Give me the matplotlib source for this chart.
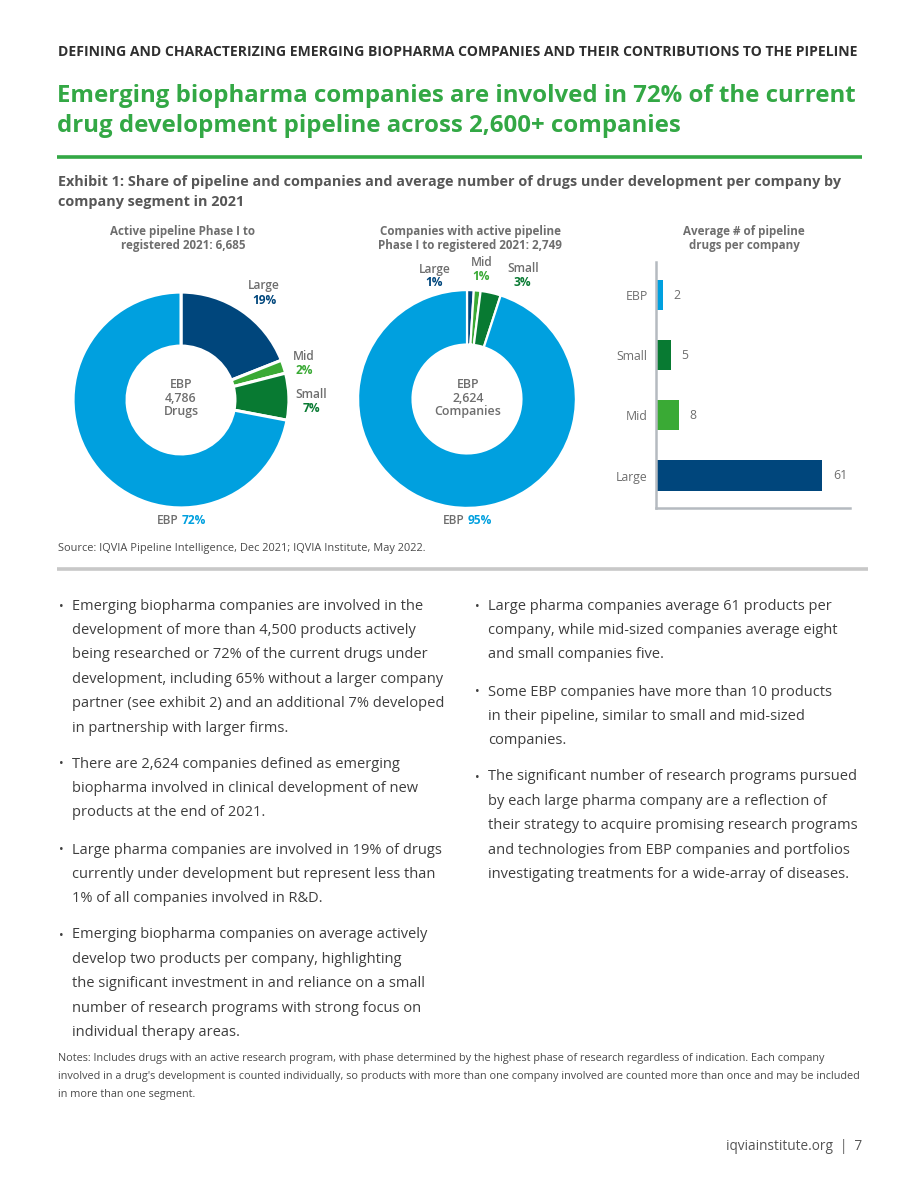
import matplotlib
matplotlib.use("Agg")
import matplotlib.pyplot as plt
from matplotlib.lines import Line2D

# ---------------- data ----------------
segments = ["Large", "Mid", "Small", "EBP"]
pipeline_share = [19, 2, 7, 72]          # % of active pipeline (drugs)
company_share = [1, 1, 3, 95]            # % of companies
bar_cats = ["EBP", "Small", "Mid", "Large"]
avg_drugs = [2, 5, 8, 61]                # average # of pipeline drugs per company
pipeline_total = "6,685"
companies_total = "2,749"
ebp_drugs = "4,786"
ebp_companies = "2,624"

# ---------------- style ----------------
NAVY = "#00467C"
LGREEN = "#3AAA35"
DGREEN = "#087A32"
BLUE = "#00A0DF"
TITLE_G = "#33A845"
GRAY = "#6E6E6E"
BODY = "#3E3E3E"
seg_colors = {"Large": NAVY, "Mid": LGREEN, "Small": DGREEN, "EBP": BLUE}

W, H = 920, 1191
fig = plt.figure(figsize=(W / 100, H / 100), dpi=100)
fig.patch.set_facecolor("white")
renderer = fig.canvas.get_renderer()

BODYF = ["Open Sans", "DejaVu Sans"]
COND = ["Open Sans", "DejaVu Sans"]


def T(x, y, s, **kw):
    kw.setdefault("va", "center")
    kw.setdefault("family", BODYF)
    return fig.text(x / W, 1 - y / H, s, **kw)


def fitT(x, y, s, width, size0, **kw):
    t = T(x, y, s, fontsize=size0, **kw)
    bb = t.get_window_extent(renderer)
    t.set_fontsize(size0 * width / bb.width)
    return t


def hline(x0, x1, y, color, lw):
    fig.add_artist(Line2D([x0 / W, x1 / W], [1 - y / H, 1 - y / H],
                          color=color, lw=lw, transform=fig.transFigure,
                          solid_capstyle="butt"))


# ---------------- header ----------------
fitT(58, 52, "DEFINING AND CHARACTERIZING EMERGING BIOPHARMA COMPANIES AND THEIR CONTRIBUTIONS TO THE PIPELINE",
     800, 10, family=COND, weight="bold", color="#2F2F2F")
t1 = fitT(57, 96, "Emerging biopharma companies are involved in 72% of the current",
          799, 20, family=COND, weight="bold", color=TITLE_G)
T(57, 126, "drug development pipeline across 2,600+ companies",
  family=COND, weight="bold", color=TITLE_G, fontsize=t1.get_fontsize())
hline(57, 862, 157, TITLE_G, 2.6)

e1 = fitT(58, 182, "Exhibit 1: Share of pipeline and companies and average number of drugs under development per company by",
          785, 10, family=COND, weight="bold", color="#575757")
T(58, 202, "company segment in 2021", family=COND, weight="bold", color="#575757",
  fontsize=e1.get_fontsize())

# chart subtitles
for cx, l1, l2 in [(183, "Active pipeline Phase I to", f"registered 2021: {pipeline_total}"),
                   (470, "Companies with active pipeline", f"Phase I to registered 2021: {companies_total}"),
                   (744, "Average # of pipeline", "drugs per company")]:
    T(cx, 231, l1, ha="center", fontsize=8.4, weight="bold", color=GRAY)
    T(cx, 246, l2, ha="center", fontsize=8.4, weight="bold", color=GRAY)


# ---------------- donuts ----------------
def donut(cx, cy, r, shares, lw):
    ax = fig.add_axes([(cx - r) / W, 1 - (cy + r) / H, 2 * r / W, 2 * r / H])
    ax.pie(shares, colors=[seg_colors[s] for s in segments], startangle=90,
           counterclock=False, radius=1.0,
           wedgeprops=dict(width=0.5, edgecolor="white", linewidth=lw))
    ax.set_xlim(-1.01, 1.01)
    ax.set_ylim(-1.01, 1.01)
    ax.set_aspect("equal")
    ax.axis("off")
    return ax


donut(181, 400, 109, pipeline_share, 2.2)
donut(467, 399, 110, company_share, 1.6)

LBL = 8.6
# donut 1 labels
for x, y, name, val, col in [(264, 286, "Large", pipeline_share[0], NAVY),
                             (304, 356, "Mid", pipeline_share[1], LGREEN),
                             (311, 395, "Small", pipeline_share[2], DGREEN)]:
    T(x, y, name, ha="center", fontsize=LBL, weight="semibold", color=GRAY)
    T(x, y + 14, f"{val}%", ha="center", fontsize=LBL, weight="bold", color=col)
for i, s in enumerate(["EBP", ebp_drugs, "Drugs"]):
    T(181, 384 + 14 * i, s, ha="center", fontsize=8.9, weight="semibold", color=GRAY)
T(179, 520, "EBP", ha="right", fontsize=LBL, weight="semibold", color=GRAY)
T(182, 520, f"{pipeline_share[3]}%", ha="left", fontsize=LBL, weight="bold", color=BLUE)

# donut 2 labels
for x, y, name, val, col in [(435, 269, "Large", company_share[0], NAVY),
                             (482, 263, "Mid", company_share[1], LGREEN),
                             (523, 269, "Small", company_share[2], DGREEN)]:
    T(x, y, name, ha="center", fontsize=LBL, weight="semibold", color=GRAY)
    T(x - 1, y + 13, f"{val}%", ha="center", fontsize=LBL, weight="bold", color=col)
for i, s in enumerate(["EBP", ebp_companies, "Companies"]):
    T(468, 384 + 14 * i, s, ha="center", fontsize=8.9, weight="semibold", color=GRAY)
T(465, 520, "EBP", ha="right", fontsize=LBL, weight="semibold", color=GRAY)
T(468, 520, f"{company_share[3]}%", ha="left", fontsize=LBL, weight="bold", color=BLUE)

# ---------------- bar chart ----------------
bx0, bx1, by0, by1 = 656, 850, 262, 508
bax = fig.add_axes([bx0 / W, 1 - by1 / H, (bx1 - bx0) / W, (by1 - by0) / H])
ypos = list(range(len(bar_cats)))
bax.barh(ypos, avg_drugs, height=0.5, color=[seg_colors[c] for c in bar_cats], left=0.4)
bax.set_xlim(0, 71.6)
bax.set_ylim(3.54, -0.55)
bax.set_yticks(ypos)
bax.set_yticklabels(bar_cats, family=BODYF, fontsize=8.8, color=GRAY)
bax.tick_params(axis="y", length=0, pad=6)
bax.set_xticks([])
for sp in ["top", "right"]:
    bax.spines[sp].set_visible(False)
for sp in ["left", "bottom"]:
    bax.spines[sp].set_color("#B5BAC0")
    bax.spines[sp].set_linewidth(1.8)
for y, v in zip(ypos, avg_drugs):
    bax.text(v + 0.4 + 4.0, y, str(v), va="center", ha="left", family=BODYF,
             fontsize=8.8, color=GRAY)

# source + separator
fitT(58, 548, "Source: IQVIA Pipeline Intelligence, Dec 2021; IQVIA Institute, May 2022.",
     367, 8, family=COND, color="#4A4A4A")
hline(57, 868, 569, "#C8C8C8", 2.6)

# ---------------- bullet text ----------------
left_bullets = [
    (605, ["Emerging biopharma companies are involved in the",
           "development of more than 4,500 products actively",
           "being researched or 72% of the current drugs under",
           "development, including 65% without a larger company",
           "partner (see exhibit 2) and an additional 7% developed",
           "in partnership with larger firms."]),
    (763, ["There are 2,624 companies defined as emerging",
           "biopharma involved in clinical development of new",
           "products at the end of 2021."]),
    (849, ["Large pharma companies are involved in 19% of drugs",
           "currently under development but represent less than",
           "1% of all companies involved in R&D."]),
    (934, ["Emerging biopharma companies on average actively",
           "develop two products per company, highlighting",
           "the significant investment in and reliance on a small",
           "number of research programs with strong focus on",
           "individual therapy areas."]),
]
right_bullets = [
    (605, ["Large pharma companies average 61 products per",
           "company, while mid-sized companies average eight",
           "and small companies five."]),
    (691, ["Some EBP companies have more than 10 products",
           "in their pipeline, similar to small and mid-sized",
           "companies."]),
    (776, ["The significant number of research programs pursued",
           "by each large pharma company are a reflection of",
           "their strategy to acquire promising research programs",
           "and technologies from EBP companies and portfolios",
           "investigating treatments for a wide-array of diseases."]),
]
LS = 24.4
for bxp, txp, blocks in [(61, 72, left_bullets), (477, 488, right_bullets)]:
    for y0, lines in blocks:
        T(bxp, y0 + 1, "•", fontsize=9, color=BODY, ha="center")
        for i, ln in enumerate(lines):
            T(txp, y0 + 1 + i * LS, ln, fontsize=10.5, color=BODY)

# notes
nt = fitT(58, 1077, "involved in a drug's development is counted individually, so products with more than one company involved are counted more than once and may be included",
          804, 7.5, family=COND, color="#4A4A4A")
T(58, 1058, "Notes: Includes drugs with an active research program, with phase determined by the highest phase of research regardless of indication. Each company",
  family=COND, color="#4A4A4A", fontsize=nt.get_fontsize())
T(58, 1094, "in more than one segment.", family=COND, color="#4A4A4A", fontsize=nt.get_fontsize())

# footer
T(862, 1146, "iqviainstitute.org  |  7", ha="right", fontsize=9.8, color="#555555")

fig.savefig("out.png", dpi=100, facecolor="white")
